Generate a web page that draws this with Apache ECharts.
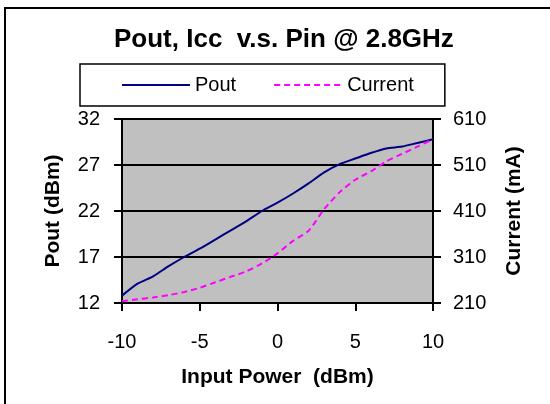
<!DOCTYPE html>
<html><head><meta charset="utf-8">
<script src="https://cdn.jsdelivr.net/npm/echarts@6/dist/echarts.min.js"></script>
<style>html,body{margin:0;padding:0;background:#fff}#c{width:550px;height:404px}</style>
</head><body><div id="c"></div>
<script>
const pin = [-10,-9,-8,-7,-6,-5,-4,-3,-2,-1,0,1,2,3,4,5,6,7,8,9,10];
const pout = [12.8,14.1,14.9,16.0,17.0,17.9,18.9,19.9,20.9,22.0,22.9,23.9,25.0,26.2,27.1,27.7,28.3,28.8,29.0,29.4,29.8];
const current = [214,218,222,227,234,243,255,267,279,296,318,345,367,414,451,478,496,518,534,550,566];
const titleText = 'Pout, Icc  v.s. Pin @ 2.8GHz';
const xName = 'Input Power  (dBm)';
const y1Name = 'Pout (dBm)';
const y2Name = 'Current (mA)';

const F = 'Liberation Sans, Arial, sans-serif';
const chart = echarts.init(document.getElementById('c'), null, {renderer:'canvas'});
chart.setOption({
  backgroundColor: '#fff',
  animation: false,
  title: {text: titleText, left: 114, top: 27, padding: 0,
    textStyle: {fontFamily: F, fontSize: 26, fontWeight: 'bold', color: '#000'}},
  legend: {left: 80, top: 64, padding: [11, 31, 11, 41], itemGap: 37, itemWidth: 68, itemHeight: 14,
    borderColor: '#000', borderWidth: 1.5, data: ['Pout', 'Current'],
    itemStyle: {opacity: 0},
    textStyle: {fontFamily: F, fontSize: 20, color: '#000'}},
  graphic: [{type: 'rect', shape: {x: 5, y: 8, width: 600, height: 500},
    style: {fill: 'none', stroke: '#000', lineWidth: 2}, z: 100}],
  grid: {left: 122, right: 117, top: 119, bottom: 101, show: true, backgroundColor: '#c0c0c0', borderWidth: 1.5, borderColor: '#555'},
  xAxis: {type: 'value', min: -10, max: 10, interval: 5, name: xName, nameLocation: 'middle', nameGap: 64,
    nameTextStyle: {fontFamily: F, fontSize: 21, fontWeight: 'bold', color: '#000'},
    axisLine: {onZero: false, lineStyle: {color: '#000', width: 2}}, axisTick: {length: 8, lineStyle: {color: '#000', width: 2}},
    axisLabel: {margin: 29, fontFamily: F, fontSize: 20, color: '#000'}, splitLine: {show: false}},
  yAxis: [
    {type: 'value', min: 12, max: 32, interval: 5, name: y1Name, nameLocation: 'middle', nameGap: 58,
      nameTextStyle: {fontFamily: F, fontSize: 21, fontWeight: 'bold', color: '#000'},
      axisLine: {show: true, onZero: false, lineStyle: {color: '#000', width: 2}}, axisTick: {show: true, length: 8, lineStyle: {color: '#000', width: 2}},
      axisLabel: {margin: 22, fontFamily: F, fontSize: 20, color: '#000'},
      splitLine: {show: true, lineStyle: {color: '#000', width: 2}}},
    {type: 'value', min: 210, max: 610, interval: 100, name: y2Name, nameLocation: 'middle', nameGap: 71,
      nameTextStyle: {fontFamily: F, fontSize: 21, fontWeight: 'bold', color: '#000'},
      axisLine: {show: true, onZero: false, lineStyle: {color: '#000', width: 2}}, axisTick: {show: true, length: 8, lineStyle: {color: '#000', width: 2}},
      axisLabel: {margin: 20, fontFamily: F, fontSize: 20, color: '#000'}, splitLine: {show: false}}
  ],
  series: [
    {name: 'Pout', type: 'line', yAxisIndex: 0, symbol: 'none', smooth: 0.2,
      data: pin.map((x, i) => [x, pout[i]]), lineStyle: {color: '#000080', width: 2}, itemStyle: {color: '#000080'}},
    {name: 'Current', type: 'line', yAxisIndex: 1, symbol: 'none', smooth: 0.2,
      data: pin.map((x, i) => [x, current[i]]), lineStyle: {color: '#ff00ff', width: 2, type: [6, 4]}, itemStyle: {color: '#ff00ff'}}
  ]
});
</script></body></html>
